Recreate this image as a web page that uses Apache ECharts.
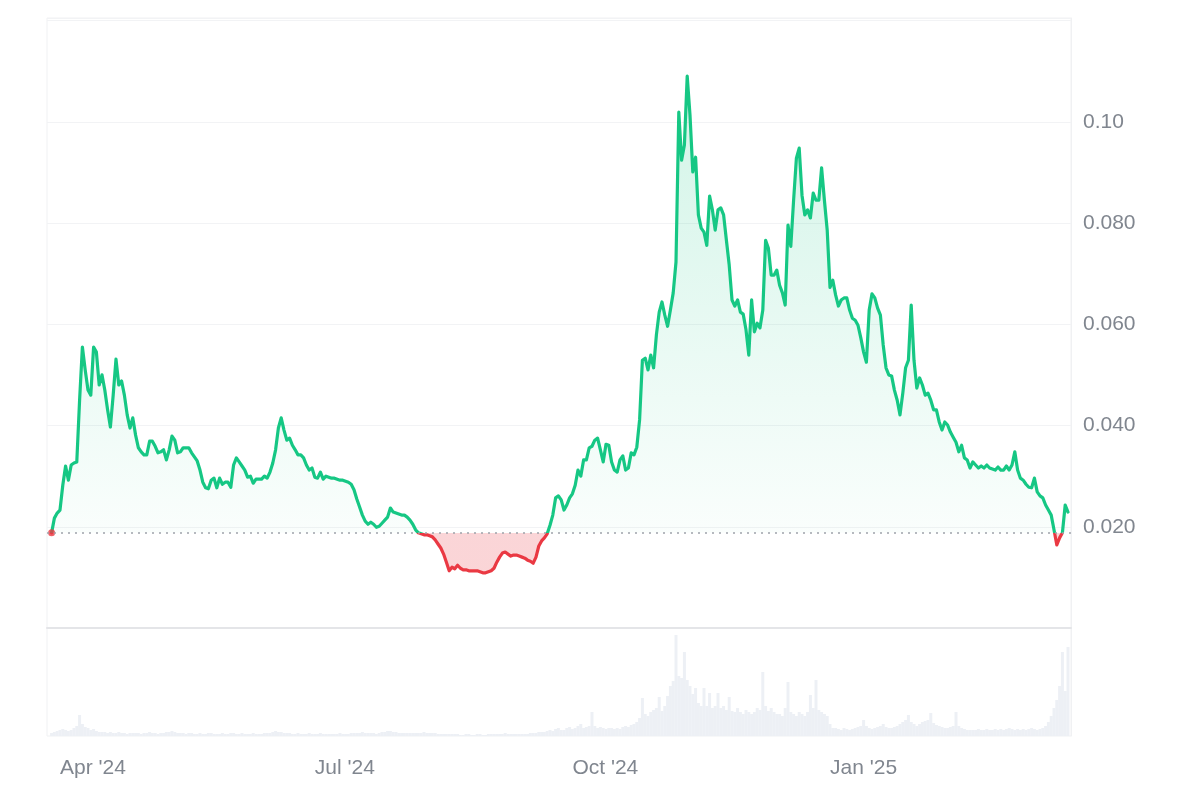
<!DOCTYPE html>
<html>
<head>
<meta charset="utf-8">
<script src="https://cdn.jsdelivr.net/npm/echarts@6/dist/echarts.min.js"></script>
<style>
html,body{margin:0;padding:0;background:#fff;}
#chart{width:1200px;height:800px;}
</style>
</head>
<body>
<div id="chart"></div>
<script>
// Daily data from 2024-03-29 to 2025-03-27
const startDay = [2024, 2, 29];
const prices = [
0.0188,0.0217,0.0227,0.0233,0.0282,0.0320,0.0292,0.0322,0.0326,0.0328,
0.0450,0.0555,0.0510,0.0470,0.0460,0.0555,0.0545,0.0480,0.0500,0.0470,
0.0431,0.0397,0.0460,0.0531,0.0480,0.0488,0.0460,0.0421,0.0395,0.0415,
0.0381,0.0356,0.0348,0.0342,0.0342,0.0369,0.0369,0.0359,0.0346,0.0348,
0.0352,0.0332,0.0352,0.0379,0.0371,0.0346,0.0348,0.0356,0.0356,0.0356,
0.0346,0.0338,0.0330,0.0312,0.0288,0.0277,0.0275,0.0292,0.0296,0.0277,
0.0296,0.0284,0.0288,0.0288,0.0278,0.0322,0.0336,0.0328,0.0320,0.0312,
0.0298,0.0300,0.0286,0.0294,0.0294,0.0294,0.0300,0.0296,0.0308,0.0326,
0.0352,0.0395,0.0415,0.0391,0.0371,0.0375,0.0361,0.0352,0.0342,0.0342,
0.0336,0.0322,0.0312,0.0316,0.0298,0.0296,0.0308,0.0294,0.0300,0.0298,
0.0296,0.0296,0.0294,0.0292,0.0292,0.0290,0.0288,0.0284,0.0273,0.0255,
0.0239,0.0223,0.0211,0.0205,0.0209,0.0205,0.0199,0.0201,0.0207,0.0213,
0.0219,0.0237,0.0229,0.0227,0.0225,0.0223,0.0223,0.0219,0.0213,0.0205,
0.0194,0.0188,0.0186,0.0184,0.0184,0.0182,0.0180,0.0174,0.0166,0.0158,
0.0146,0.0130,0.0113,0.0120,0.0117,0.0124,0.0118,0.0115,0.0115,0.0113,
0.0113,0.0113,0.0113,0.0111,0.0109,0.0109,0.0111,0.0113,0.0118,0.0130,
0.0140,0.0148,0.0150,0.0146,0.0142,0.0144,0.0144,0.0142,0.0140,0.0138,
0.0134,0.0132,0.0128,0.0140,0.0162,0.0172,0.0178,0.0186,0.0203,0.0223,
0.0257,0.0261,0.0253,0.0233,0.0243,0.0257,0.0265,0.0282,0.0312,0.0300,
0.0332,0.0332,0.0356,0.0359,0.0371,0.0375,0.0352,0.0328,0.0363,0.0361,
0.0328,0.0312,0.0308,0.0332,0.0340,0.0312,0.0316,0.0346,0.0342,0.0357,
0.0411,0.0529,0.0533,0.0510,0.0539,0.0514,0.0579,0.0624,0.0644,0.0618,
0.0596,0.0628,0.0662,0.0723,0.1019,0.0924,0.0954,0.1090,0.1013,0.0901,
0.0930,0.0816,0.0790,0.0782,0.0756,0.0853,0.0826,0.0786,0.0826,0.0830,
0.0816,0.0766,0.0717,0.0648,0.0636,0.0648,0.0624,0.0620,0.0589,0.0539,
0.0648,0.0585,0.0602,0.0593,0.0628,0.0766,0.0750,0.0697,0.0697,0.0707,
0.0677,0.0662,0.0638,0.0796,0.0754,0.0845,0.0928,0.0948,0.0855,0.0816,
0.0826,0.0810,0.0859,0.0845,0.0845,0.0909,0.0845,0.0786,0.0673,0.0687,
0.0658,0.0636,0.0648,0.0652,0.0652,0.0628,0.0612,0.0608,0.0598,0.0573,
0.0545,0.0525,0.0628,0.0660,0.0652,0.0632,0.0618,0.0559,0.0514,0.0500,
0.0498,0.0470,0.0450,0.0421,0.0464,0.0514,0.0529,0.0638,0.0529,0.0474,
0.0494,0.0480,0.0460,0.0464,0.0450,0.0431,0.0431,0.0407,0.0391,0.0407,
0.0401,0.0387,0.0377,0.0367,0.0348,0.0361,0.0336,0.0332,0.0316,0.0328,
0.0322,0.0316,0.0320,0.0316,0.0322,0.0316,0.0314,0.0312,0.0318,0.0312,
0.0312,0.0320,0.0312,0.0322,0.0348,0.0312,0.0296,0.0292,0.0284,0.0278,
0.0277,0.0296,0.0269,0.0261,0.0257,0.0243,0.0233,0.0223,0.0194,0.0164,
0.0178,0.0188,0.0243,0.0229
];
const volumes = [
3,4,5,6,7,6,5,6,8,10,
21,12,9,8,6,7,5,4,4,4,
3,4,3,3,4,3,3,2,3,3,
3,3,2,3,3,4,3,3,2,3,
3,4,4,5,4,3,3,3,2,3,
3,2,2,3,2,2,3,3,2,2,
2,3,2,2,3,3,2,2,3,2,
2,2,3,2,2,2,3,3,3,4,
5,4,4,3,3,3,2,2,3,2,
2,2,3,2,2,2,3,2,2,2,
2,2,2,3,2,2,2,3,3,3,
3,4,3,3,3,3,2,3,4,4,
5,5,4,4,3,3,3,3,3,3,
3,3,3,4,3,3,3,3,2,2,
2,2,2,2,2,2,1,1,2,2,
1,1,2,2,1,1,2,2,2,2,
2,2,3,2,2,2,2,2,2,2,
2,3,3,3,4,4,4,5,6,5,
7,8,6,6,8,9,7,8,10,12,
8,9,10,24,10,8,9,8,7,8,
8,7,8,7,9,10,9,11,12,14,
18,38,22,20,24,26,28,39,25,30,
40,50,55,101,60,58,84,56,50,42,
48,33,30,48,30,43,28,30,43,28,
30,26,39,25,24,28,24,22,26,24,
22,24,28,26,64,30,25,28,24,22,
22,20,28,54,24,22,20,24,22,20,
24,41,28,56,26,24,22,20,12,8,
8,7,6,8,7,6,7,8,9,10,
16,10,8,7,8,9,10,12,9,8,
8,9,10,12,14,16,21,14,12,10,
12,14,15,16,23,13,11,10,9,8,
8,9,10,24,10,8,7,6,6,6,
6,7,6,6,7,6,6,7,6,7,
6,7,8,7,6,7,6,7,6,7,
8,7,6,7,8,10,14,20,28,36,
50,84,45,89
];
const tickDates = [[2024,3,1],[2024,6,1],[2024,9,1],[2025,0,1]];
const monthNames = ['Jan','Feb','Mar','Apr','May','Jun','Jul','Aug','Sep','Oct','Nov','Dec'];
const priceTicks = [0.02, 0.04, 0.06, 0.08, 0.10];

const dates = prices.map((_, i) => new Date(startDay[0], startDay[1], startDay[2] + i).getTime());
const base = prices[0];
const GREEN = '#16c784', RED = '#ea3943';
const axisMin = new Date(2024, 2, 27, 8, 40).getTime();
const axisMax = new Date(2025, 2, 28, 1, 40).getTime();
const tickTs = tickDates.map(d => new Date(d[0], d[1], d[2]).getTime());
const labelColor = '#80868f';
const FONT = 'Liberation Sans, Arial, sans-serif';

const chart = echarts.init(document.getElementById('chart'));
const option = {
  animation: false,
  backgroundColor: '#fff',
  grid: [
    {left: 47, right: 129, top: 18, height: 610, show: true, borderColor: '#f0f1f3', borderWidth: 1},
    {left: 47, right: 129, top: 628, height: 108, show: true, borderColor: '#f0f1f3', borderWidth: 1}
  ],
  xAxis: [
    {type: 'value', gridIndex: 0, min: axisMin, max: axisMax, position: 'top',
     axisLine: {show: true, lineStyle: {color: '#e4e5e8', width: 2}},
     axisTick: {show: false}, axisLabel: {show: false}, splitLine: {show: false}},
    {type: 'value', gridIndex: 1, min: axisMin, max: axisMax,
     axisLine: {show: false}, axisTick: {show: false}, splitLine: {show: false},
     axisLabel: {
       customValues: tickTs, align: 'left', margin: 22, color: labelColor,
       fontSize: 21, fontFamily: FONT, showMinLabel: true, showMaxLabel: true,
       formatter: v => { const d = new Date(v); return monthNames[d.getMonth()] + " '" + String(d.getFullYear()).slice(2); }
     }}
  ],
  yAxis: [
    {type: 'value', gridIndex: 0, position: 'right', min: 0, max: 0.1205, interval: 0.02,
     axisLine: {show: true, lineStyle: {color: '#f0f1f3'}}, axisTick: {show: false},
     splitLine: {show: true, lineStyle: {color: '#f2f3f5', width: 1}},
     axisLabel: {margin: 12, color: labelColor, fontSize: 21, fontFamily: FONT,
       formatter: v => {
         const hit = priceTicks.find(t => Math.abs(t - v) < 1e-9);
         if (hit === undefined) return '';
         return hit >= 0.1 ? hit.toFixed(2) : hit.toFixed(3);
       }}},
    {type: 'value', gridIndex: 1, position: 'right', min: 0, max: 108,
     axisLine: {show: true, lineStyle: {color: '#f0f1f3'}}, axisTick: {show: false},
     axisLabel: {show: false}, splitLine: {show: false}}
  ],
  series: [
    {type: 'bar', xAxisIndex: 1, yAxisIndex: 1, data: dates.map((t, i) => [t, volumes[i]]),
     barWidth: 3, itemStyle: {color: '#edf0f5'}, silent: true},
    {type: 'line', xAxisIndex: 0, yAxisIndex: 0, data: dates.map((t, i) => [t, prices[i]]),
     showSymbol: false, symbol: 'none', smooth: false,
     lineStyle: {width: 3.2, color: GREEN, join: 'round', cap: 'round'},
     areaStyle: {origin: base, color: 'rgba(22,199,132,0.1)'},
     markLine: {silent: true, symbol: 'none', precision: 6, label: {show: false},
       lineStyle: {color: '#9ea3aa', type: [2, 5], width: 1.5},
       data: [{yAxis: base}]}, z: 3},
    {type: 'scatter', xAxisIndex: 0, yAxisIndex: 0, data: [[dates[0], prices[0]]],
     symbolSize: 7, itemStyle: {color: RED}, z: 4, silent: true}
  ]
};
chart.setOption(option);

const yTop = chart.convertToPixel({yAxisIndex: 0}, Math.max(...prices));
const yBase = chart.convertToPixel({yAxisIndex: 0}, base);
const yBot = chart.convertToPixel({yAxisIndex: 0}, Math.min(...prices));
const f = (yBase - yTop) / (yBot - yTop);
const lineGrad = {type: 'linear', x: 0, y: yTop, x2: 0, y2: yBot, global: true,
  colorStops: [{offset: 0, color: GREEN}, {offset: f, color: GREEN}, {offset: f, color: RED}, {offset: 1, color: RED}]};
const areaGrad = {type: 'linear', x: 0, y: yTop, x2: 0, y2: yBot, global: true,
  colorStops: [{offset: 0, color: 'rgba(22,199,132,0.28)'}, {offset: f, color: 'rgba(22,199,132,0.03)'},
               {offset: f, color: 'rgba(234,57,67,0.3)'}, {offset: 1, color: 'rgba(234,57,67,0.3)'}]};
chart.setOption({series: [{}, {lineStyle: {color: lineGrad}, areaStyle: {color: areaGrad}}, {}]});
</script>
</body>
</html>
